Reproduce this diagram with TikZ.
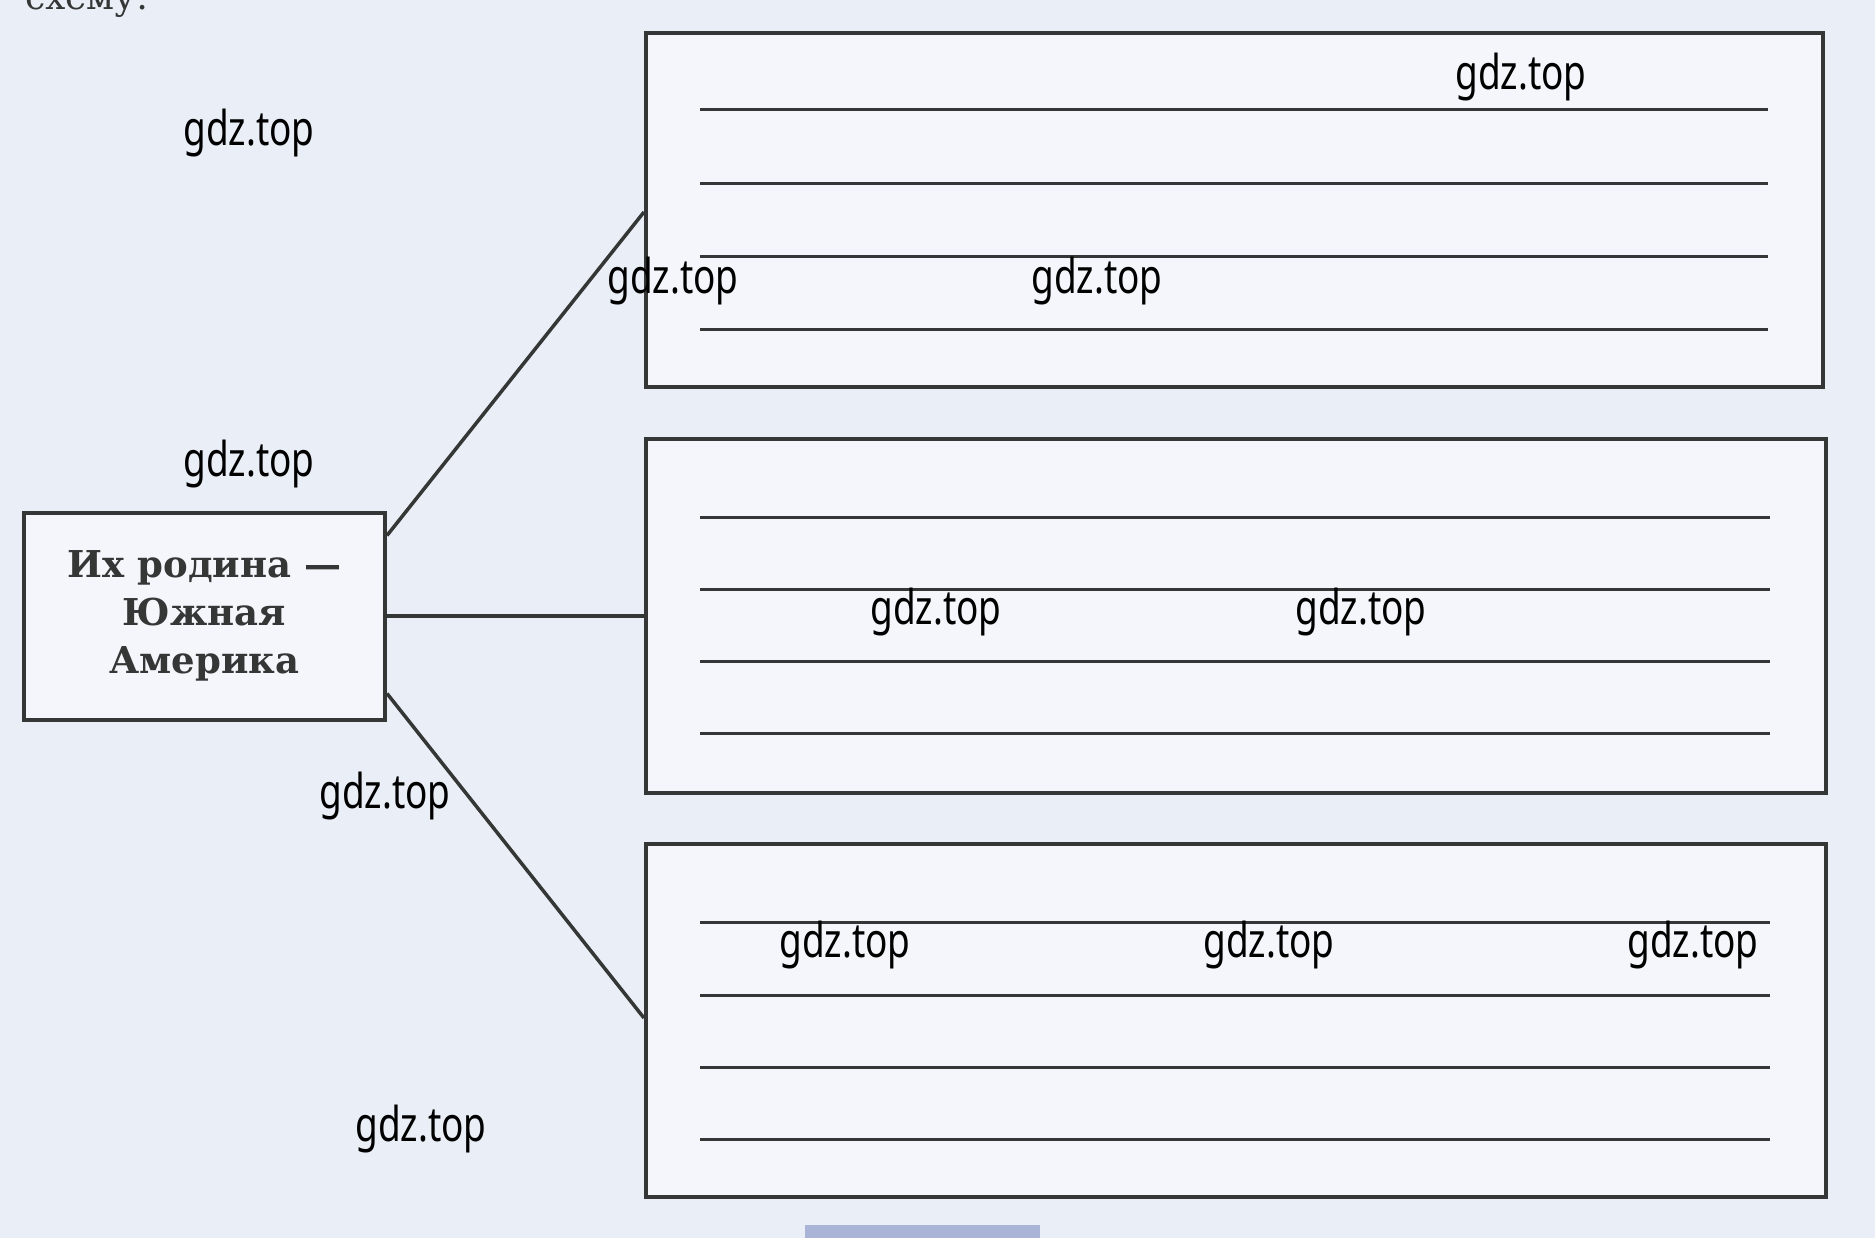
\documentclass[tikz,border=0pt]{standalone}
\usepackage{fontspec}
\setmainfont{DejaVu Serif}
\newfontfamily\wmfont[FakeStretch=0.77]{Noto Sans}
\definecolor{paper}{RGB}{234,238,247}
\definecolor{boxpaper}{RGB}{244,246,251}
\definecolor{ink}{RGB}{52,55,53}
\definecolor{bar}{RGB}{170,180,214}
\tikzset{
  framebox/.style={draw=ink, line width=4pt, fill=boxpaper, inner sep=0pt},
  conn/.style={draw=ink, line width=3.5pt},
  writeline/.style={draw=ink, line width=3pt},
  wm/.style={inner sep=0pt, font=\wmfont\fontsize{48}{52}\selectfont, text=black},
}
\begin{document}
\begin{tikzpicture}[x=1pt,y=-1pt]
\useasboundingbox (0,0) rectangle (1875,1238);
\clip (0,0) rectangle (1875,1238);
\fill[paper] (0,0) rectangle (1875,1238);
\fill[bar] (805,1225) rectangle (1040,1238);
\node[anchor=base west, inner sep=0pt, text=ink, font=\fontsize{36}{40}\selectfont] (cut) at (25,10) {схему:};

% left box
\node[framebox, minimum width=361pt, minimum height=207pt, align=center,
      font=\bfseries\fontsize{37}{48}\selectfont, text=ink] (L) at (204.5,616)
  {Их родина —\\Южная\\Америка};

% right boxes
\node[framebox, minimum width=1177pt, minimum height=354pt] (T) at (1234.5,210) {};
\node[framebox, minimum width=1180pt, minimum height=354pt] (M) at (1236,616) {};
\node[framebox, minimum width=1180pt, minimum height=353pt] (B) at (1236,1020.5) {};

% writing lines
\foreach \yy in {110,184,257,330} \draw[writeline] (700,\yy) -- (1768,\yy);
\foreach \yy in {517,589,661,733} \draw[writeline] (700,\yy) -- (1770,\yy);
\foreach \yy in {922,995,1067,1139} \draw[writeline] (700,\yy) -- (1770,\yy);

% connectors
\draw[conn] ([yshift=-25pt]L.north east) -- ([yshift=-2pt]T.west);
\draw[conn] (L.east) -- (M.west);
\draw[conn] ([yshift=28pt]L.south east) -- ([yshift=2.5pt]B.west);

% watermarks
\node[wm] (w1) at (249,133) {gdz.top};
\node[wm] (w2) at (1521,77) {gdz.top};
\node[wm] (w3) at (673,281) {gdz.top};
\node[wm] (w4) at (1097,281) {gdz.top};
\node[wm] (w5) at (249,464) {gdz.top};
\node[wm] (w6) at (936,612) {gdz.top};
\node[wm] (w7) at (1361,612) {gdz.top};
\node[wm] (w8) at (385,796) {gdz.top};
\node[wm] (w9) at (845,945) {gdz.top};
\node[wm] (w10) at (1269,945) {gdz.top};
\node[wm] (w11) at (1693,945) {gdz.top};
\node[wm] (w12) at (421,1129) {gdz.top};
\end{tikzpicture}
\end{document}
